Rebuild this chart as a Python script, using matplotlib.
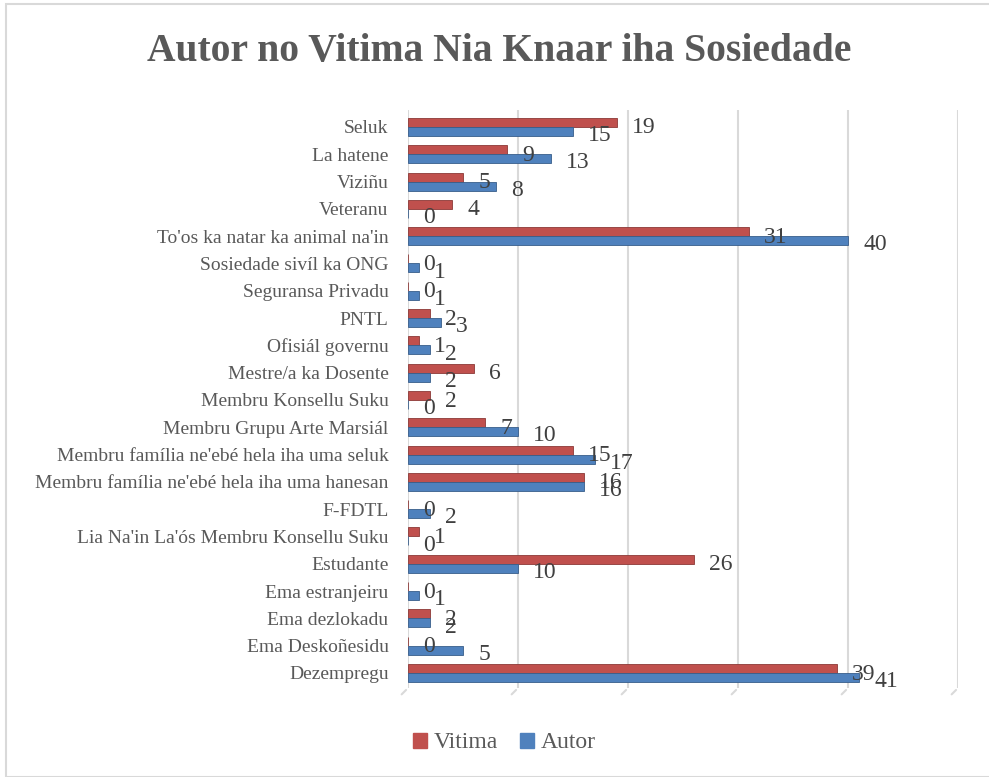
# grafiku bar horizontal: autor no vitima tuir knaar iha sosiedade
import matplotlib
matplotlib.use('Agg')
import matplotlib.pyplot as plt
import numpy as np
from matplotlib.patches import Rectangle

kategoria = ['Seluk', 'La hatene', 'Viziñu', 'Veteranu',
             "To'os ka natar ka animal na'in", 'Sosiedade sivíl ka ONG',
             'Seguransa Privadu', 'PNTL', 'Ofisiál governu',
             'Mestre/a ka Dosente', 'Membru Konsellu Suku',
             'Membru Grupu Arte Marsiál',
             "Membru família ne'ebé hela iha uma seluk",
             "Membru família ne'ebé hela iha uma hanesan", 'F-FDTL',
             "Lia Na'in La'ós Membru Konsellu Suku", 'Estudante',
             'Ema estranjeiru', 'Ema dezlokadu', 'Ema Deskoñesidu',
             'Dezempregu']
vitima = [19, 9, 5, 4, 31, 0, 0, 2, 1, 6, 2, 7, 15, 16, 0, 1, 26, 0, 2, 0, 39]
autor = [15, 13, 8, 0, 40, 1, 1, 3, 2, 2, 0, 10, 17, 16, 2, 0, 10, 1, 2, 5, 41]

plt.rcParams['font.family'] = ['Liberation Serif', 'DejaVu Serif']
kor_testu = '#595959'
kor_vitima = '#C0504D'
kor_autor = '#4F81BD'

fig = plt.figure(figsize=(9.89, 7.77), dpi=100)
# kaixa ka moldura
fig.patches.append(Rectangle((6/989, 0), 1, 1 - 4/777, transform=fig.transFigure,
                             fill=False, edgecolor='#D9D9D9', linewidth=1.5))

ax = fig.add_axes([408/989, 1 - 688/777, 550/989, (688 - 110)/777])
y = np.arange(len(kategoria))
h = 0.33
ax.barh(y - h/2, vitima, height=h, color=kor_vitima, edgecolor='#8C3836', linewidth=0.6, zorder=3)
ax.barh(y + h/2, autor, height=h, color=kor_autor, edgecolor='#385D8A', linewidth=0.6, zorder=3)

for i in range(len(kategoria)):
    ax.annotate(str(vitima[i]), (vitima[i], y[i] - h/2), xytext=(11, -4), textcoords='offset points',
                fontsize=17, color='#404040', va='center', ha='left', zorder=5)
    ax.annotate(str(autor[i]), (autor[i], y[i] + h/2), xytext=(11, -3), textcoords='offset points',
                fontsize=17, color='#404040', va='center', ha='left', zorder=5)

ax.set_xlim(0, 50)
ax.set_ylim(20.55, -0.62)
ax.set_xticks([0, 10, 20, 30, 40, 50])
ax.set_xticklabels([])
ax.tick_params(axis='x', length=0)
ax.tick_params(axis='y', length=0, pad=14)
ax.set_yticks(y)
ax.set_yticklabels(kategoria, fontsize=14, color=kor_testu)
ax.grid(axis='x', color='#D9D9D9', linewidth=1.5, zorder=0)
for s in ax.spines.values():
    s.set_visible(False)
# tiku diagonal iha okos
for xv in [0, 10, 20, 30, 40, 50]:
    ax.annotate('', xy=(xv, 0), xycoords=('data', 'axes fraction'),
                xytext=(-6, -6), textcoords='offset points',
                arrowprops=dict(arrowstyle='-', color='#D9D9D9', lw=1.5))

fig.text(0.505, 1 - 52/777, 'Autor no Vitima Nia Knaar iha Sosiedade', ha='center', va='center',
         fontsize=28.5, fontweight='bold', color=kor_testu)

hs = [Rectangle((0, 0), 1, 1, color=kor_vitima), Rectangle((0, 0), 1, 1, color=kor_autor)]
fig.legend(hs, ['Vitima', 'Autor'], loc='center', bbox_to_anchor=(0.51, 1 - 743/777), ncol=2,
           frameon=False, fontsize=17, labelcolor=kor_testu, handlelength=0.6, handleheight=0.6,
           handletextpad=0.3, columnspacing=0.9)

plt.savefig('out.png', dpi=100)
